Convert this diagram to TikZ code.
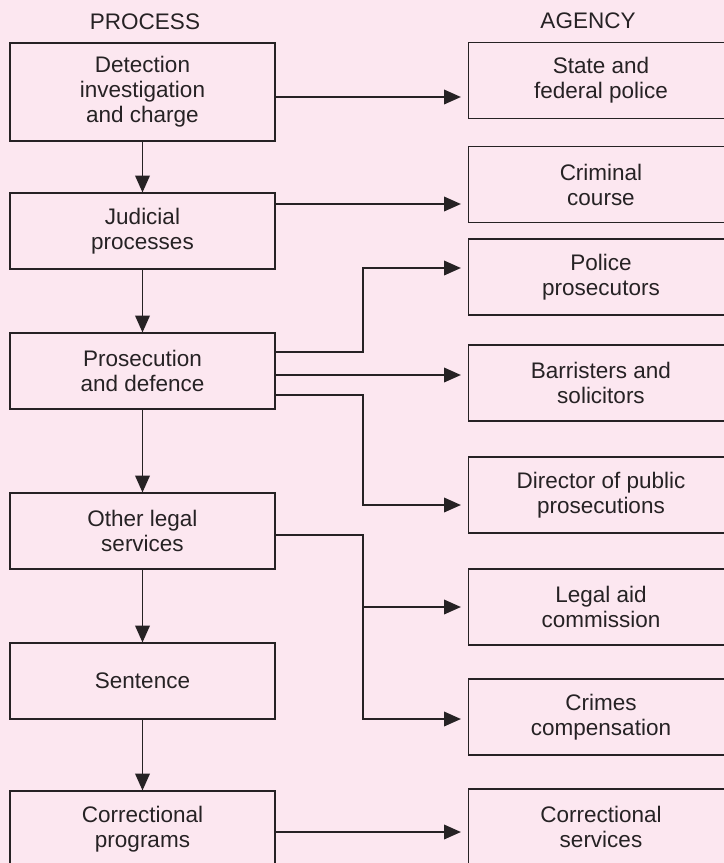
\documentclass[tikz,border=0pt]{standalone}
\usepackage{fontspec}
\setmainfont{Liberation Sans}
\usetikzlibrary{arrows.meta,positioning}
\definecolor{bgpink}{RGB}{252,231,240}
\definecolor{ink}{RGB}{38,34,36}

\begin{document}
\begin{tikzpicture}[x=0.025cm,y=-0.025cm,line width=0.8pt,color=ink,font=\fontsize{16}{17.8}\selectfont]
    \tikzstyle{box}=[draw=ink,rectangle,minimum width=6.625cm,minimum height=1.9cm,align=center,inner sep=2pt]
    \tikzstyle{process box}=[box];
    \tikzstyle{agency box}=[box];
    \tikzstyle{head}=[inner sep=0pt];
    \tikzstyle{arr}=[-{Triangle[length=12pt,width=10.5pt]}]
    \tikzstyle{side arr}=[arr,shorten >=5pt]

    \useasboundingbox (0,0) rectangle (724,863);
    \fill[bgpink] (0,0) rectangle (724,863);
    \clip (0,0) rectangle (724,863);

% Nodes
    % Column heads
    \node[head] (process) at (145,22) {PROCESS};
    \node[head] (agency) at (588,21) {AGENCY};

    % Process column
    \node[process box,minimum height=2.45cm] (det) at (142.5,92) {Detection\\investigation\\and charge};
    \foreach \name/\y/\txt in {jud/231/Judicial\\processes, pros/371/Prosecution\\and defence,
                               oth/531/Other legal\\services, sen/681/Sentence,
                               cor/829/Correctional\\programs}
        \node[process box] (\name) at (142.5,\y) {\txt};

    % Agency column
    \foreach \name/\y/\txt in {sfp/80.5/State and\\federal police, crc/184.5/Criminal\\course,
                               ppr/277/Police\\prosecutors, bas/383/Barristers and\\solicitors,
                               dpp/495/Director of public\\prosecutions, lac/607/Legal aid\\commission,
                               cco/717/Crimes\\compensation, cse/827/Correctional\\services}
        \node[agency box] (\name) at (601,\y) {\txt};

% Paths
    % Process chain
    \foreach \a/\b in {det/jud,jud/pros,pros/oth,oth/sen,sen/cor}
        \draw[arr] (\a) -- (\b);

    % Junctions
    \coordinate (r1) at (363,97);
    \coordinate (r2) at (363,204);
    \coordinate (p1) at (363,352);
    \coordinate (p1b) at (363,268);
    \coordinate (p2) at (363,375);
    \coordinate (p3) at (363,395);
    \coordinate (p3b) at (363,505);
    \coordinate (o1) at (363,535);
    \coordinate (o2) at (363,607);
    \coordinate (o3) at (363,719);
    \coordinate (c1) at (363,832);

    % Process to agency
    \draw[side arr] (det.east |- r1) -- (sfp.west |- r1);
    \draw[side arr] (jud.east |- r2) -- (crc.west |- r2);
    \draw[side arr] (pros.east |- p1) -- (p1) -- (p1b) -- (ppr.west |- p1b);
    \draw[side arr] (pros.east |- p2) -- (bas.west |- p2);
    \draw[side arr] (pros.east |- p3) -- (p3) -- (p3b) -- (dpp.west |- p3b);
    \draw[side arr] (oth.east |- o1) -- (o1) -- (o3) -- (cco.west |- o3);
    \draw[side arr] (o2) -- (lac.west |- o2);
    \draw[side arr] (cor.east |- c1) -- (cse.west |- c1);

\end{tikzpicture}
\end{document}
